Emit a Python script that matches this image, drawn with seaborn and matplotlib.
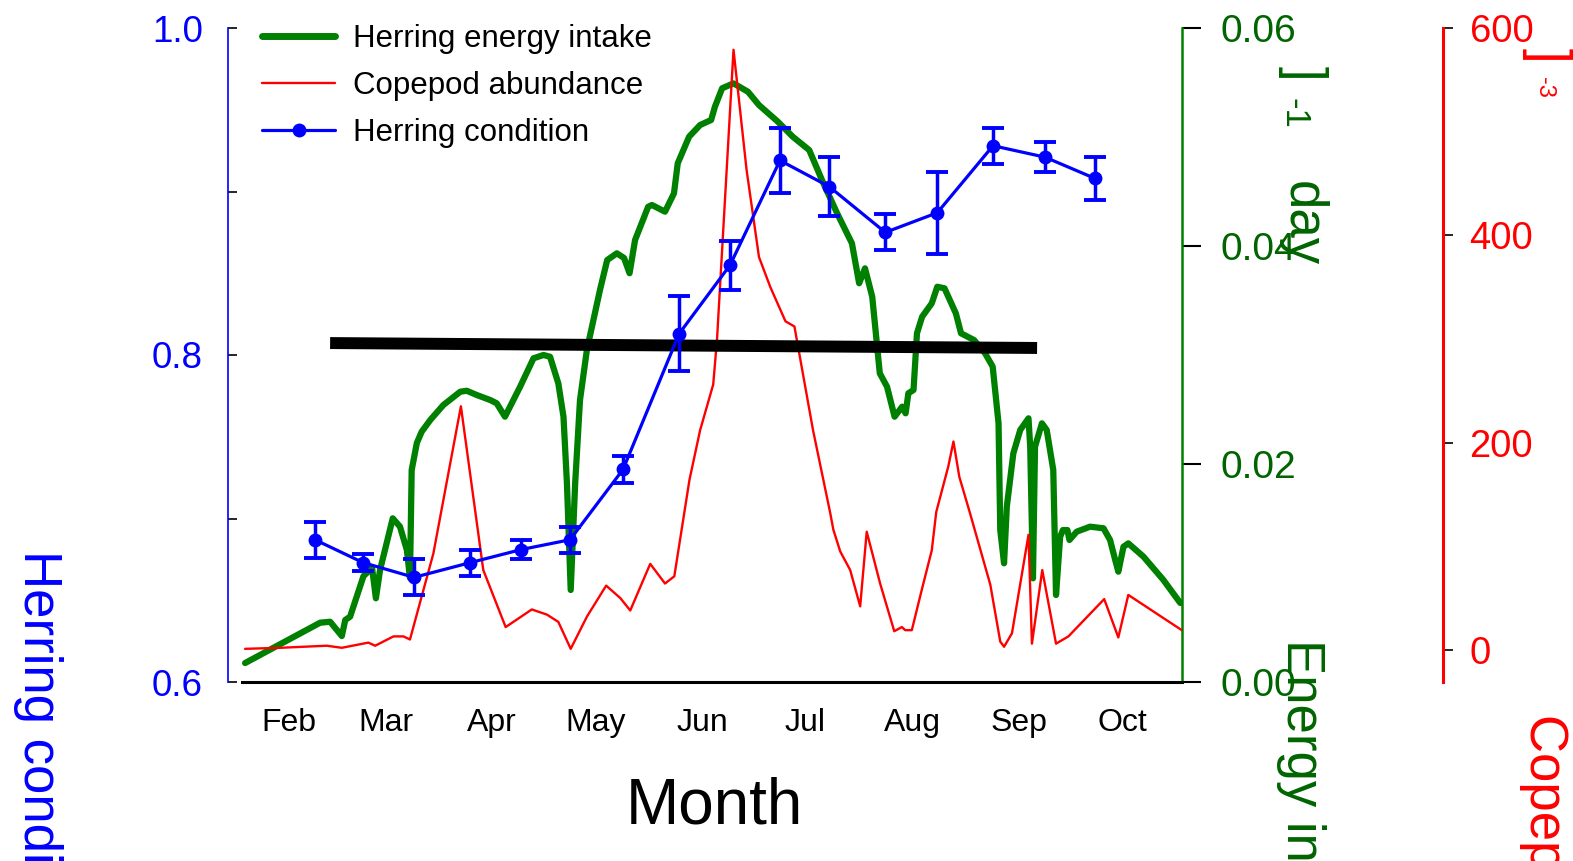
import numpy as np
import pandas as pd
import matplotlib
matplotlib.use("Agg")
import matplotlib.pyplot as plt
from matplotlib.lines import Line2D
import seaborn as sns

# ---------------- data ----------------
months = ['Feb', 'Mar', 'Apr', 'May', 'Jun', 'Jul', 'Aug', 'Sep', 'Oct']
month_days = [46, 74, 105, 135, 166, 196, 227, 258, 288]

energy_day = [33.2, 55.0, 57.9, 61.3, 62.3, 63.7, 67.6, 70.1, 71.2, 72.4, 76.1, 78.2, 80.2, 81.1,
              81.6, 83.1, 84.5, 87.0, 90.8, 95.7, 97.6, 100.5, 104.4, 106.3, 108.7, 113.1, 117.0,
              119.9, 121.8, 124.2, 125.7, 126.7, 127.8, 129.1, 130.5, 132.5, 136.3, 138.4, 141.2,
              143.3, 144.9, 146.5, 150.3, 151.4, 155.2, 157.8, 158.9, 162.2, 165.4, 168.6, 169.7,
              171.8, 175.1, 179.3, 182.5, 188.0, 192.3, 197.1, 200.8, 205.2, 209.5, 211.6, 213.3,
              215.4, 217.6, 219.7, 221.9, 224.1, 225.1, 225.9, 227.4, 228.4, 229.9, 232.7, 234.3,
              236.4, 239.7, 241.2, 245.0, 248.2, 250.4, 252.1, 252.6, 253.7, 254.5, 256.4, 258.4,
              260.8, 261.3, 262.1, 262.7, 264.7, 266.1, 268.0, 268.8, 270.0, 270.8, 272.1, 272.7,
              274.8, 278.7, 282.6, 284.5, 286.0, 286.9, 288.4, 289.8, 294.2, 300.0, 304.9]
energy_val = [0.00174, 0.00544, 0.00553, 0.00422, 0.00569, 0.00599, 0.00972, 0.01046, 0.00768,
              0.01027, 0.01502, 0.01425, 0.01211, 0.00954, 0.01945, 0.02193, 0.02296, 0.02404,
              0.02541, 0.02663, 0.02672, 0.02633, 0.02587, 0.02557, 0.02434, 0.02709, 0.02970,
              0.03000, 0.02984, 0.02740, 0.02434, 0.01826, 0.00844, 0.01826, 0.02587, 0.03046,
              0.03596, 0.03871, 0.03933, 0.03890, 0.03750, 0.04055, 0.04360, 0.04376, 0.04315,
              0.04483, 0.04759, 0.05003, 0.05110, 0.05156, 0.05278, 0.05447, 0.05492, 0.05415,
              0.05293, 0.05140, 0.05003, 0.04880, 0.04605, 0.04300, 0.04025, 0.03658, 0.03795,
              0.03535, 0.02832, 0.02709, 0.02434, 0.02526, 0.02465, 0.02649, 0.02679, 0.03199,
              0.03351, 0.03474, 0.03626, 0.03612, 0.03382, 0.03199, 0.03137, 0.03015, 0.02893,
              0.02373, 0.01394, 0.01089, 0.01608, 0.02098, 0.02312, 0.02419, 0.02159, 0.00951,
              0.02159, 0.02373, 0.02312, 0.01945, 0.00798, 0.01333, 0.01394, 0.01394, 0.01303,
              0.01379, 0.01425, 0.01410, 0.01303, 0.01119, 0.01012, 0.01241, 0.01272, 0.01150,
              0.00936, 0.00725]

copepod_day = [33.2, 43.4, 56.9, 61.3, 69.0, 71.0, 76.3, 79.2, 81.1, 87.9, 95.9, 102.4, 108.9,
               116.5, 120.9, 124.2, 127.8, 132.5, 138.1, 142.2, 145.1, 150.9, 155.2, 157.9, 162.3,
               165.4, 169.2, 170.3, 175.1, 178.9, 182.5, 185.8, 190.2, 192.8, 198.2, 203.2, 204.1,
               206.1, 209.0, 211.9, 213.8, 217.7, 221.8, 224.0, 225.0, 226.9, 229.8, 232.7, 234.0,
               237.5, 239.0, 240.7, 243.8, 249.7, 252.6, 253.7, 256.0, 260.8, 261.8, 264.8, 268.8,
               272.4, 282.8, 286.9, 289.8, 305.8]
copepod_val = [1, 2, 4, 2, 7, 4, 13, 13, 10, 93, 235, 77, 22, 39, 34, 27, 1, 32, 62, 50, 38, 83,
               64, 71, 164, 212, 256, 299, 579, 463, 379, 350, 317, 312, 212, 132, 116, 95, 77, 42,
               114, 64, 18, 22, 19, 19, 58, 96, 133, 177, 201, 167, 132, 63, 8, 3, 16, 111, 6, 77,
               6, 13, 49, 12, 53, 18]

condition_day = [53.5, 67.5, 82.3, 98.6, 113.4, 127.6, 143.0, 159.3, 174.1, 188.6, 202.9,
                 219.2, 234.3, 250.5, 265.6, 280.1]
condition_val = [0.687, 0.673, 0.664, 0.673, 0.681, 0.687, 0.730, 0.813, 0.855, 0.919, 0.903,
                 0.875, 0.887, 0.928, 0.921, 0.908]
condition_err = [0.011, 0.005, 0.011, 0.008, 0.006, 0.008, 0.008, 0.023, 0.015, 0.020, 0.018,
                 0.011, 0.025, 0.011, 0.009, 0.013]

trend_day = [57.9, 263.3]
trend_val = [0.8073, 0.8043]

# ---------------- style ----------------
sns.set_style("white")
plt.rcParams['font.family'] = ['Liberation Sans', 'DejaVu Sans']
plt.rcParams['text.color'] = 'black'
plt.rcParams['axes.labelcolor'] = 'black'
plt.rcParams['xtick.color'] = 'black'
plt.rcParams['ytick.color'] = 'black'

W, H = 1573, 861
GREEN = '#008000'
DKGREEN = '#006400'

fig = plt.figure(figsize=(W / 100, H / 100), dpi=100)
ax_g = fig.add_axes([242 / W, 1 - 682 / H, (1182 - 242) / W, (682 - 28) / H])
ax_r = ax_g.twinx()
ax_b = ax_g.twinx()
ax_g.yaxis.tick_right()
ax_b.yaxis.tick_left()

for a in (ax_g, ax_r, ax_b):
    for s in a.spines.values():
        s.set_visible(False)

# green energy intake
sns.lineplot(x=energy_day, y=energy_val, ax=ax_g, color=GREEN, lw=4.5,
             estimator=None, sort=False, solid_joinstyle='round')
# red copepod abundance
sns.lineplot(x=copepod_day, y=copepod_val, ax=ax_r, color='red', lw=1.7,
             estimator=None, sort=False)
# black trend line
sns.lineplot(x=trend_day, y=trend_val, ax=ax_b, color='black', lw=8.6,
             estimator=None, sort=False, solid_capstyle='butt')
# blue herring condition
ax_b.errorbar(condition_day, condition_val, yerr=condition_err, fmt='none',
              ecolor='blue', elinewidth=2.5, capsize=8, capthick=2.8, zorder=3)
sns.lineplot(x=condition_day, y=condition_val, ax=ax_b, color='blue', lw=2.3,
             marker='o', markersize=10, markeredgewidth=0, estimator=None, sort=False,
             zorder=4)

# limits
ax_g.set_xlim(32.3, 305.4)
ax_g.set_ylim(0, 0.06)
ax_r.set_ylim(-31, 600)
ax_b.set_ylim(0.6, 1.0)

# x axis
ax_g.spines['bottom'].set_visible(True)
ax_g.spines['bottom'].set_color('black')
ax_g.spines['bottom'].set_linewidth(2.2)
ax_g.set_xticks(month_days)
ax_g.set_xticklabels(months)
ax_g.tick_params(axis='x', length=0, pad=19, labelsize=23, labelcolor='black')
ax_g.set_xlabel('')
ax_g.set_ylabel('')
ax_r.set_ylabel('')
ax_b.set_ylabel('')

# green axis (right)
ax_g.spines['right'].set_visible(True)
ax_g.spines['right'].set_color(GREEN)
ax_g.spines['right'].set_linewidth(1.8)
ax_g.set_yticks([0, 0.02, 0.04, 0.06])
ax_g.set_yticklabels(['0.00', '0.02', '0.04', '0.06'])
ax_g.tick_params(axis='y', which='both', right=True, left=False, direction='out', length=14,
                 width=1.5, color='black', labelcolor=DKGREEN, labelsize=28, pad=14)

# red axis (far right)
ax_r.spines['right'].set_visible(True)
ax_r.spines['right'].set_color('red')
ax_r.spines['right'].set_linewidth(2.2)
ax_r.spines['right'].set_position(('outward', 188))
ax_r.set_yticks([0, 200, 400, 600])
ax_r.tick_params(axis='y', direction='out', length=7, width=1.2, color='black',
                 labelcolor='red', labelsize=27.5, pad=12)

# blue axis (left)
ax_b.spines['left'].set_visible(True)
ax_b.spines['left'].set_color('blue')
ax_b.spines['left'].set_linewidth(1.2)
ax_b.spines['left'].set_position(('outward', 10))
ax_b.set_yticks([0.6, 0.7, 0.8, 0.9, 1.0])
ax_b.set_yticklabels(['0.6', '', '0.8', '', '1.0'])
ax_b.tick_params(axis='y', left=True, right=False, labelleft=True, labelright=False,
                 direction='in', length=6.5, width=1.2, color='black',
                 labelcolor='blue', labelsize=26.5, pad=18)

# legend
handles = [Line2D([], [], color=GREEN, lw=5),
           Line2D([], [], color='red', lw=1.7),
           Line2D([], [], color='blue', lw=2.3, marker='o', markersize=10, markeredgewidth=0)]
labels = ['Herring energy intake', 'Copepod abundance', 'Herring condition']
leg = ax_b.legend(handles, labels, loc='upper left', bbox_to_anchor=(262 / W, 1 - 24 / H),
                  bbox_transform=fig.transFigure, frameon=False, fontsize=22.5,
                  handlelength=2.34, handletextpad=0.58, labelspacing=0.55,
                  borderpad=0, borderaxespad=0)
for t in leg.get_texts():
    t.set_color('black')

# x label
fig.text(714 / W, 1 - 824 / H, 'Month', ha='center', va='baseline', fontsize=46, color='black')

# rotated axis titles (as drawn in the original, partly outside the canvas)
def rtext(px, py, s, color, size):
    fig.text(px / W, 1 - py / H, s, rotation=-90, rotation_mode='anchor',
             ha='left', va='baseline', color=color, fontsize=size)

rtext(24, 550, 'Herring condition', 'blue', 38)
rtext(1287, 639, 'Energy intake', DKGREEN, 38)
rtext(1288, 181, 'day', DKGREEN, 38)
rtext(1289, 66, ']', DKGREEN, 38)
rtext(1285, 98, '-1', DKGREEN, 25)
rtext(1530, 714, 'Copepod abundance', 'red', 38)
rtext(1533, 48, ']', 'red', 38)
rtext(1538, 77, '-3', 'red', 17)

fig.savefig('out.png', dpi=100)
